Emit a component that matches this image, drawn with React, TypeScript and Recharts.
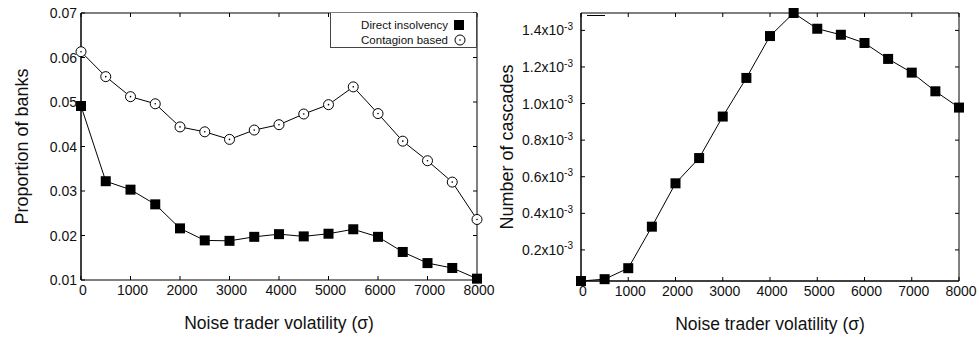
import React from 'react';
import { LineChart, Line, XAxis, YAxis, Label } from 'recharts';

// sigma values on the x axis
const volatility = [0, 500, 1000, 1500, 2000, 2500, 3000, 3500, 4000, 4500, 5000, 5500, 6000, 6500, 7000, 7500, 8000];
const directInsolvency = [0.0491, 0.0322, 0.0303, 0.0270, 0.0216, 0.0189, 0.0188, 0.0197, 0.0203, 0.0198, 0.0204, 0.0214, 0.0197, 0.0163, 0.0138, 0.0127, 0.0103];
const contagionBased = [0.0613, 0.0557, 0.0512, 0.0496, 0.0444, 0.0433, 0.0416, 0.0437, 0.0449, 0.0473, 0.0494, 0.0534, 0.0474, 0.0412, 0.0368, 0.0320, 0.0236];
// number of cascades, in units of 1e-3
const cascades = [0.030, 0.040, 0.100, 0.327, 0.564, 0.702, 0.929, 1.140, 1.369, 1.495, 1.409, 1.376, 1.331, 1.244, 1.169, 1.067, 0.978];

const xTicks = [0, 1000, 2000, 3000, 4000, 5000, 6000, 7000, 8000];
const bankTicks = [0.01, 0.02, 0.03, 0.04, 0.05, 0.06, 0.07];
const cascadeTicks = [0.2, 0.4, 0.6, 0.8, 1.0, 1.2, 1.4];

const bankData = volatility.map((v, i) => ({ v, direct: directInsolvency[i], contagion: contagionBased[i] }));
const cascadeData = volatility.map((v, i) => ({ v, cascades: cascades[i] }));

const FONT = '"Liberation Sans", Arial, Helvetica, sans-serif';
const TICK_LEN = 4;

const BottomTick = (props: any) => {
  const { x, y, payload } = props;
  return (
    <g>
      <line x1={x} x2={x} y1={y} y2={y - TICK_LEN} stroke="#000" />
      <text x={x + 2} y={y + 15} textAnchor="middle" fontSize={14} fontFamily={FONT} fill="#111">{payload.value}</text>
    </g>
  );
};

const TopTick = (props: any) => {
  const { x, y } = props;
  return <line x1={x} x2={x} y1={y} y2={y + TICK_LEN} stroke="#000" />;
};

const LeftTick = (props: any) => {
  const { x, y, payload } = props;
  return (
    <g>
      <line x1={x} x2={x + TICK_LEN} y1={y} y2={y} stroke="#000" />
      <text x={x - 4} y={y} dy="0.36em" textAnchor="end" fontSize={14} fontFamily={FONT} fill="#111">{payload.value.toFixed(2)}</text>
    </g>
  );
};

const LeftSciTick = (props: any) => {
  const { x, y, payload } = props;
  return (
    <g>
      <line x1={x} x2={x + TICK_LEN} y1={y} y2={y} stroke="#000" />
      <text x={x - 8} y={y} dy="0.36em" textAnchor="end" fontSize={14} fontFamily={FONT} fill="#111">
        {payload.value.toFixed(1)}x10
        <tspan dy="-0.55em" fontSize={10}>-3</tspan>
      </text>
    </g>
  );
};

const RightTick = (props: any) => {
  const { x, y } = props;
  return <line x1={x} x2={x - TICK_LEN} y1={y} y2={y} stroke="#000" />;
};

const SquareDot = (props: any) => {
  const { cx, cy } = props;
  if (cx == null || cy == null) return null;
  return <rect x={cx - 5} y={cy - 5} width={10} height={10} fill="#000" />;
};

const CircleDot = (props: any) => {
  const { cx, cy } = props;
  if (cx == null || cy == null) return null;
  return (
    <g>
      <circle cx={cx} cy={cy} r={5} fill="#fff" stroke="#000" strokeWidth={1} />
      <circle cx={cx} cy={cy} r={0.8} fill="#000" />
    </g>
  );
};

const xTitle = (props: any) => {
  const { viewBox } = props;
  return (
    <text x={viewBox.x + viewBox.width / 2} y={viewBox.y + 49} textAnchor="middle" fontSize={17.5} fontFamily={FONT} fill="#111">
      Noise trader volatility (σ)
    </text>
  );
};

const yTitle = (text: string, gap: number) => (props: any) => {
  const { viewBox } = props;
  const cx = viewBox.x + viewBox.width - gap;
  const cy = viewBox.y + viewBox.height / 2;
  return (
    <text x={cx} y={cy} dy="0.36em" textAnchor="middle" transform={`rotate(-90, ${cx}, ${cy})`} fontSize={18} fontFamily={FONT} fill="#111">
      {text}
    </text>
  );
};

function LegendRow({ label, children }: { label: string; children: React.ReactNode }) {
  return (
    <div style={{ display: 'flex', justifyContent: 'flex-end', alignItems: 'center', height: 15 }}>
      <span>{label}</span>
      <svg width={14} height={12} style={{ marginLeft: 4 }}>{children}</svg>
    </div>
  );
}

export default function App() {
  return (
    <div style={{ position: 'absolute', left: 0, top: 0, width: 979, height: 339, background: '#fff', fontFamily: FONT }}>
      <div style={{ position: 'absolute', left: 0, top: 0 }}>
        <LineChart width={510} height={339} data={bankData} margin={{ top: 12, right: 32, bottom: 58, left: 80 }}>
          <XAxis xAxisId="b" dataKey="v" type="number" domain={[0, 8000]} ticks={xTicks} height={1} tickSize={0} tickMargin={0}
            tick={<BottomTick />} axisLine={{ stroke: '#000' }} tickLine={false} interval={0}>
            <Label content={xTitle} />
          </XAxis>
          <XAxis xAxisId="t" dataKey="v" type="number" orientation="top" domain={[0, 8000]} ticks={xTicks} height={1} tickSize={0} tickMargin={0}
            tick={<TopTick />} axisLine={{ stroke: '#000' }} tickLine={false} interval={0} />
          <YAxis yAxisId="l" type="number" domain={[0.01, 0.07]} ticks={bankTicks} width={1} tickSize={0} tickMargin={0}
            tick={<LeftTick />} axisLine={{ stroke: '#000', strokeWidth: 1.5 }} tickLine={false} interval={0}>
            <Label content={yTitle('Proportion of banks', 59)} />
          </YAxis>
          <YAxis yAxisId="r" type="number" orientation="right" domain={[0.01, 0.07]} ticks={bankTicks} width={1} tickSize={0} tickMargin={0}
            tick={<RightTick />} axisLine={{ stroke: '#000' }} tickLine={false} interval={0} />
          <Line xAxisId="b" yAxisId="l" dataKey="contagion" stroke="#000" strokeWidth={1} dot={<CircleDot />} isAnimationActive={false} />
          <Line xAxisId="b" yAxisId="l" dataKey="direct" stroke="#000" strokeWidth={1} dot={<SquareDot />} isAnimationActive={false} />
          <Line xAxisId="t" yAxisId="r" dataKey="direct" stroke="none" dot={false} isAnimationActive={false} />
        </LineChart>
        <div style={{ position: 'absolute', left: 330, top: 13, width: 147, height: 35, border: '1px solid #444', borderTop: 'none', boxSizing: 'border-box', fontSize: 11.5, color: '#111', padding: '4px 10px 0 0', background: '#fff' }}>
          <LegendRow label="Direct insolvency"><rect x={2} y={1} width={10} height={10} fill="#000" /></LegendRow>
          <LegendRow label="Contagion based">
            <circle cx={8} cy={6} r={5} fill="#fff" stroke="#000" />
            <circle cx={8} cy={6} r={0.8} fill="#000" />
          </LegendRow>
        </div>
      </div>
      <div style={{ position: 'absolute', left: 490, top: 0 }}>
        <LineChart width={489} height={339} data={cascadeData} margin={{ top: 12, right: 19, bottom: 57, left: 90 }}>
          <XAxis xAxisId="b" dataKey="v" type="number" domain={[0, 8000]} ticks={xTicks} height={1} tickSize={0} tickMargin={0}
            tick={<BottomTick />} axisLine={{ stroke: '#000', strokeWidth: 1.5 }} tickLine={false} interval={0}>
            <Label content={xTitle} />
          </XAxis>
          <XAxis xAxisId="t" dataKey="v" type="number" orientation="top" domain={[0, 8000]} ticks={xTicks} height={1} tickSize={0} tickMargin={0}
            tick={<TopTick />} axisLine={{ stroke: '#000' }} tickLine={false} interval={0} />
          <YAxis yAxisId="l" type="number" domain={['dataMin', 'dataMax']} ticks={cascadeTicks} width={1} tickSize={0} tickMargin={0}
            tick={<LeftSciTick />} axisLine={{ stroke: '#000', strokeWidth: 1.5 }} tickLine={false} interval={0}>
            <Label content={yTitle('Number of cascades', 74)} />
          </YAxis>
          <YAxis yAxisId="r" type="number" orientation="right" domain={['dataMin', 'dataMax']} ticks={cascadeTicks} width={1} tickSize={0} tickMargin={0}
            tick={<RightTick />} axisLine={{ stroke: '#000' }} tickLine={false} interval={0} />
          <Line xAxisId="b" yAxisId="l" dataKey="cascades" stroke="#000" strokeWidth={1} dot={<SquareDot />} isAnimationActive={false} />
          <Line xAxisId="t" yAxisId="r" dataKey="cascades" stroke="none" dot={false} isAnimationActive={false} />
        </LineChart>
        <div style={{ position: 'absolute', left: 97, top: 15, width: 18, height: 0, borderTop: '1.5px solid #000' }} />
      </div>
    </div>
  );
}
